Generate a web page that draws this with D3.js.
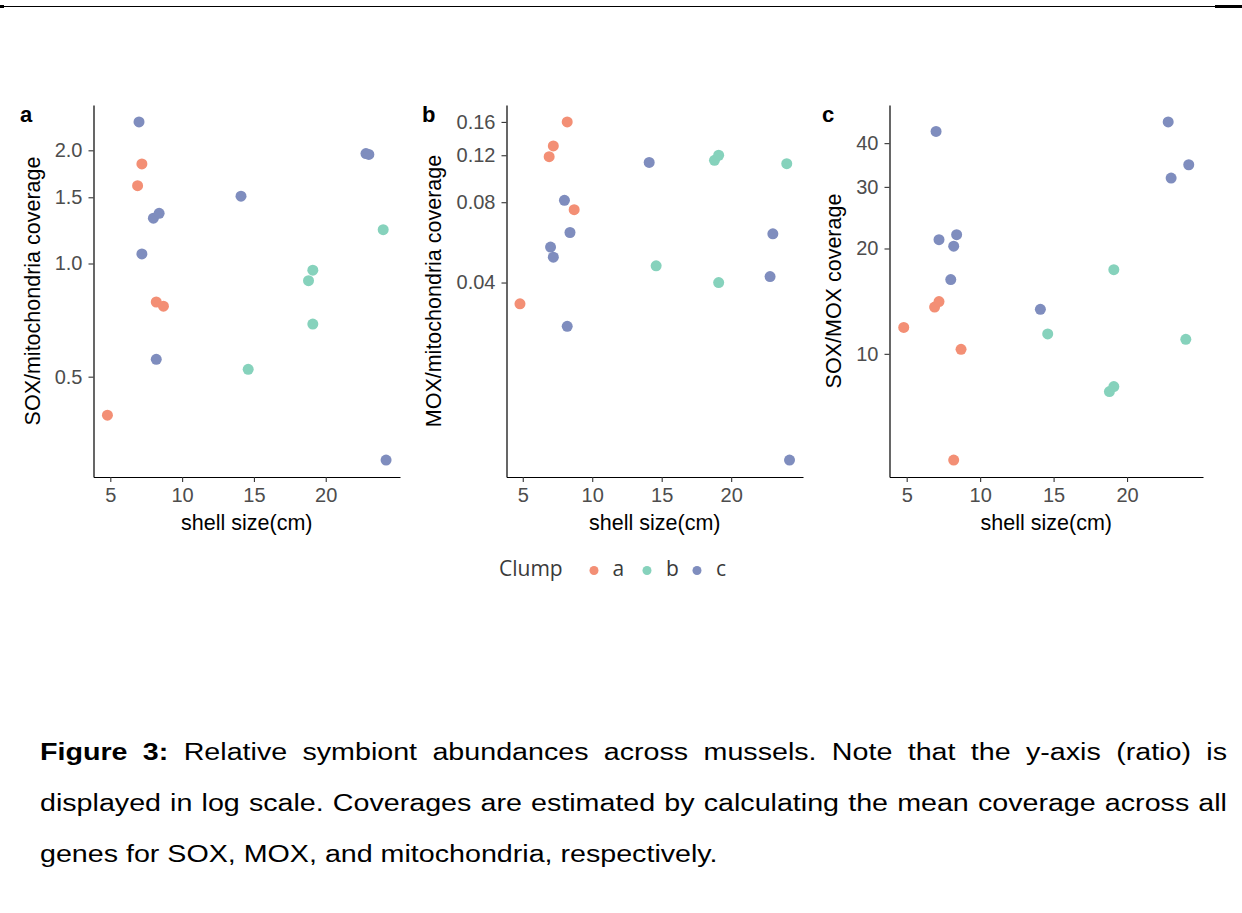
<!DOCTYPE html>
<html>
<head>
<meta charset="utf-8">
<script src="https://cdn.jsdelivr.net/npm/d3@7"></script>
<style>
  html, body { margin: 0; padding: 0; background: #fff; }
  svg { display: block; }
</style>
</head>
<body>
<svg id="chart" width="1242" height="913"></svg>
<script>
// ---------------- data ----------------
const clumps     = ["a", "b", "c"];
const clump      = ["a","a","a","a","a", "b","b","b","b","b", "c","c","c","c","c","c","c","c","c"];
const shellSize  = [4.8, 6.9, 7.2, 8.2, 8.7, 14.6, 18.8, 19.1, 19.1, 24.0, 7.0, 7.2, 8.0, 8.2, 8.4, 14.1, 22.8, 23.0, 24.2];
const soxMito    = [0.395, 1.61, 1.84, 0.79, 0.77, 0.523, 0.90, 0.96, 0.69, 1.23, 2.38, 1.06, 1.32, 0.556, 1.36, 1.51, 1.96, 1.95, 0.300];
const moxMito    = [0.0333, 0.1185, 0.130, 0.160, 0.075, 0.0462, 0.1148, 0.120, 0.040, 0.1116, 0.0543, 0.0498, 0.0813, 0.0274, 0.0616, 0.1128, 0.0421, 0.0609, 0.00864];
const soxMox     = [11.9, 13.6, 14.1, 4.97, 10.3, 11.4, 7.80, 8.06, 17.4, 11.0, 43.2, 21.2, 16.3, 20.3, 21.9, 13.4, 46.0, 31.8, 34.7];

const xTicks     = [5, 10, 15, 20];
const ticksA     = [0.5, 1.0, 1.5, 2.0];
const ticksB     = [0.04, 0.08, 0.12, 0.16];
const ticksC     = [10, 20, 30, 40];
const labelsA    = ["0.5", "1.0", "1.5", "2.0"];
const labelsB    = ["0.04", "0.08", "0.12", "0.16"];
const labelsC    = ["10", "20", "30", "40"];
const panelTags  = ["a", "b", "c"];
const yTitles    = ["SOX/mitochondria coverage", "MOX/mitochondria coverage", "SOX/MOX coverage"];
const xTitle     = "shell size(cm)";
const legendTitle = "Clump";
const captionLines = [
  "Figure 3: Relative symbiont abundances across mussels. Note that the y-axis (ratio) is",
  "displayed in log scale. Coverages are estimated by calculating the mean coverage across all",
  "genes for SOX, MOX, and mitochondria, respectively."
];

// ---------------- styling / layout ----------------
const colors = d3.scaleOrdinal().domain(clumps).range(["#F38F75", "#86D2BC", "#7F8DBE"]);
const FONT = "'Liberation Sans', Arial, Helvetica, sans-serif";
const svg = d3.select("#chart");

// top rule
svg.append("line").attr("x1", 0).attr("x2", 1215).attr("y1", 6.5).attr("y2", 6.5)
   .attr("stroke", "#000").attr("stroke-width", 1);
svg.append("rect").attr("x", 1215).attr("y", 5).attr("width", 27).attr("height", 3).attr("fill", "#000");
svg.append("rect").attr("x", 0).attr("y", 5).attr("width", 4).attr("height", 3).attr("fill", "#000");

const panels = [
  { left: 93.5,  right: 400,  vals: soxMito, ticks: ticksA, labels: labelsA, titleX: 32,    tagX: 20 },
  { left: 506.5, right: 803,  vals: moxMito, ticks: ticksB, labels: labelsB, titleX: 433.5, tagX: 422 },
  { left: 889.5, right: 1203, vals: soxMox,  ticks: ticksC, labels: labelsC, titleX: 833.5, tagX: 822 }
];
const plotTop = 105, plotBottom = 477;

// ggplot-like 5% expansion
function expandLin(ext) { const s = ext[1] - ext[0]; return [ext[0] - 0.05 * s, ext[1] + 0.05 * s]; }
function expandLog(ext) {
  const l0 = Math.log(ext[0]), l1 = Math.log(ext[1]), s = l1 - l0;
  return [Math.exp(l0 - 0.05 * s), Math.exp(l1 + 0.05 * s)];
}

const xDomain = expandLin(d3.extent(shellSize));

panels.forEach((p, i) => {
  const x = d3.scaleLinear().domain(xDomain).range([p.left, p.right]);
  const y = d3.scaleLog().domain(expandLog(d3.extent(p.vals))).range([plotBottom, plotTop]);
  const g = svg.append("g");

  // axes
  const xa = g.append("g").attr("transform", `translate(0,${plotBottom})`)
    .call(d3.axisBottom(x).tickValues(xTicks).tickFormat(d3.format("d")).tickSize(5).tickPadding(6).tickSizeOuter(0));
  const ya = g.append("g").attr("transform", `translate(${p.left},0)`)
    .call(d3.axisLeft(y).tickValues(p.ticks).tickFormat((d, k) => p.labels[k]).tickSize(5).tickPadding(6).tickSizeOuter(0));
  [xa, ya].forEach(a => {
    a.select(".domain").attr("stroke", "#000").attr("stroke-width", 1.2);
    a.selectAll(".tick line").attr("stroke", "#333").attr("stroke-width", 1.1);
    a.selectAll(".tick text").attr("font-family", FONT).attr("font-size", 20).attr("fill", "#4D4D4D");
  });

  // points
  g.append("g").selectAll("circle").data(d3.range(shellSize.length)).join("circle")
    .attr("cx", k => x(shellSize[k]))
    .attr("cy", k => y(p.vals[k]))
    .attr("r", 5.5)
    .attr("fill", k => colors(clump[k]));

  // titles
  g.append("text").attr("x", (p.left + p.right) / 2).attr("y", 530)
    .attr("text-anchor", "middle").attr("font-family", FONT).attr("font-size", 21.5).attr("fill", "#000")
    .text(xTitle);
  g.append("text").attr("transform", `translate(${p.titleX},${(plotTop + plotBottom) / 2}) rotate(-90)`)
    .attr("dy", "0.35em").attr("text-anchor", "middle").attr("font-family", FONT)
    .attr("font-size", 21.5).attr("fill", "#000").text(yTitles[i]);
  g.append("text").attr("x", p.tagX).attr("y", 122).attr("font-family", FONT)
    .attr("font-weight", "bold").attr("font-size", 22).attr("fill", "#000").text(panelTags[i]);
});

// legend
const LFONT = "'Open Sans', 'Noto Sans', sans-serif";
const lg = svg.append("g");
lg.append("text").attr("x", 499).attr("y", 576).attr("font-family", LFONT).attr("font-size", 21)
  .attr("fill", "#3a3a3a").text(legendTitle);
const legDotX = [594, 647, 697];
const legTxtX = [612.5, 666, 716];
clumps.forEach((c, k) => {
  lg.append("circle").attr("cx", legDotX[k]).attr("cy", 570.5).attr("r", 4.5).attr("fill", colors(c));
  lg.append("text").attr("x", legTxtX[k]).attr("y", 576).attr("font-family", LFONT).attr("font-size", 21)
    .attr("fill", "#3a3a3a").text(c);
});

// caption (justified)
const CFS = 24.5, capLeft = 40, capRight = 1227;
const baselines = [760, 811, 862];
const cap = svg.append("g").attr("font-family", FONT).attr("font-size", CFS).attr("fill", "#000");
const probe = cap.append("text").text(captionLines[2]);
const natural = probe.node().getComputedTextLength();
probe.remove();
const sx = 678 / natural;

captionLines.forEach((line, li) => {
  const lg2 = cap.append("g").attr("transform", `translate(${capLeft},${baselines[li]}) scale(${sx},1)`);
  if (li === 2) {
    lg2.append("text").attr("x", 0).attr("y", 0).text(line);
    return;
  }
  const words = line.split(" ");
  const nodes = words.map((w, wi) => {
    const t = lg2.append("text").attr("y", 0).text(w);
    if (li === 0 && wi < 2) t.attr("font-weight", "bold");
    return t;
  });
  const widths = nodes.map(n => n.node().getComputedTextLength());
  const total = d3.sum(widths);
  const avail = (capRight - capLeft) / sx;
  const gap = (avail - total) / (words.length - 1);
  let cx = 0;
  nodes.forEach((n, k) => { n.attr("x", cx); cx += widths[k] + gap; });
});
</script>
</body>
</html>
